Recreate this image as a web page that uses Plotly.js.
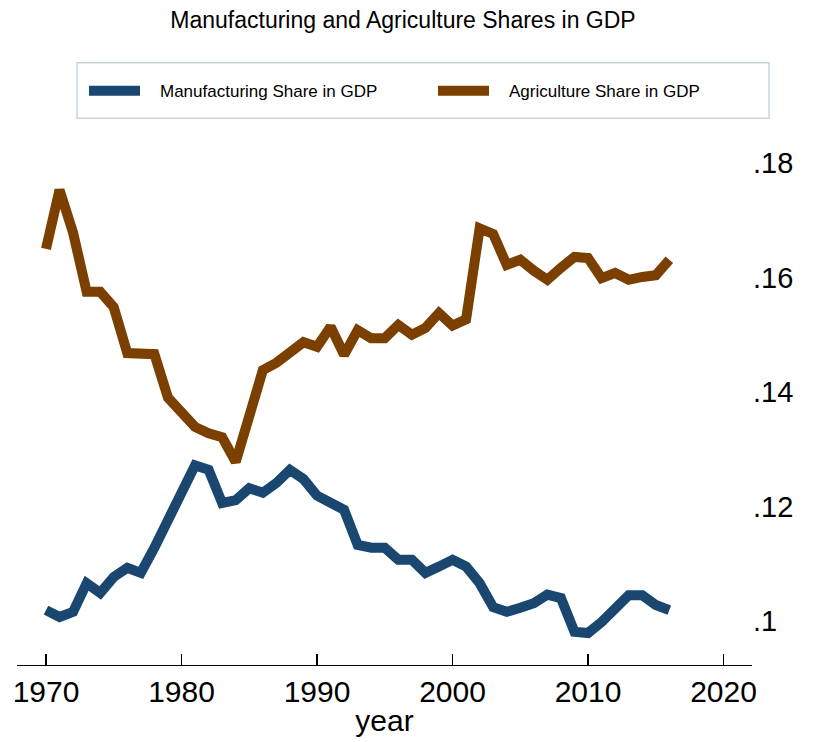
<!DOCTYPE html>
<html>
<head>
<meta charset="utf-8">
<script src="https://cdn.plot.ly/plotly-3.0.1.min.js"></script>
<style>html,body{margin:0;padding:0;background:#fff;}#chart{width:814px;height:742px;}</style>
</head>
<body>
<div id="chart"></div>
<script>
const years = [1970,1971,1972,1973,1974,1975,1976,1977,1978,1979,1980,1981,1982,1983,1984,1985,1986,1987,1988,1989,1990,1991,1992,1993,1994,1995,1996,1997,1998,1999,2000,2001,2002,2003,2004,2005,2006,2007,2008,2009,2010,2011,2012,2013,2014,2015,2016];

const manufacturingShare = [0.1019,0.1007,0.1016,0.1066,0.1049,0.1077,0.1093,0.1084,0.1128,0.1176,0.1220,0.1272,0.1264,0.1206,0.1211,0.1232,0.1224,0.1241,0.1264,0.1248,0.1219,0.1206,0.1194,0.1133,0.1128,0.1128,0.1107,0.1107,0.1084,0.1095,0.1107,0.1095,0.1066,0.1024,0.1016,0.1023,0.1031,0.1046,0.1040,0.0981,0.0979,0.0998,0.1019,0.1045,0.1045,0.1028,0.1019];

const agricultureShare = [0.1650,0.1753,0.1678,0.1575,0.1575,0.1548,0.1468,0.1468,0.1466,0.1390,0.1365,0.1339,0.1328,0.1321,0.1278,0.1365,0.1438,0.1451,0.1468,0.1487,0.1479,0.1514,0.1465,0.1508,0.1494,0.1494,0.1517,0.1500,0.1512,0.1538,0.1516,0.1527,0.1686,0.1676,0.1622,0.1631,0.1612,0.1596,0.1617,0.1636,0.1634,0.1599,0.1608,0.1596,0.1601,0.1604,0.1631];

const xTicks = [1970,1980,1990,2000,2010,2020];
const yTicks = [0.10,0.12,0.14,0.16,0.18];
const yTickLabels = ['.1','.12','.14','.16','.18'];

const seriesNames = ['Manufacturing Share in GDP','Agriculture Share in GDP'];
const seriesColors = ['#1a476f','#7b3f00'];
const FONT = 'Liberation Sans, Arial, Helvetica, sans-serif';

const traces = [
  {x: years, y: manufacturingShare, name: seriesNames[0], type: 'scatter', mode: 'lines',
   line: {color: seriesColors[0], width: 10}},
  {x: years, y: agricultureShare, name: seriesNames[1], type: 'scatter', mode: 'lines',
   line: {color: seriesColors[1], width: 10}}
];

// pixel helpers for layout positioning (plot area: x 17..752, y 140..665)
const L = 17, R = 752, T = 140, B = 665;
const px = v => (v - L) / (R - L);
const py = v => (B - v) / (B - T);

// legend (drawn as key lines + labels inside a framed box, Stata style)
const legendKeyX = [[89, 140], [438, 489]];
const legendTextX = [158, 507];
const legendY = 90.7;

const shapes = [
  {type: 'rect', xref: 'paper', yref: 'paper', x0: px(77), x1: px(769), y0: py(118.3), y1: py(62.7),
   line: {color: '#c9d4e2', width: 1.5}, fillcolor: 'rgba(0,0,0,0)', layer: 'above'}
];
const annotations = [];
seriesNames.forEach((nm, i) => {
  shapes.push({type: 'line', xref: 'paper', yref: 'paper', x0: px(legendKeyX[i][0]), x1: px(legendKeyX[i][1]),
               y0: py(legendY), y1: py(legendY), line: {color: seriesColors[i], width: 10}, layer: 'above'});
  annotations.push({text: nm, xref: 'paper', yref: 'paper', x: px(legendTextX[i]), y: py(legendY + 0.5),
                    xanchor: 'left', yanchor: 'middle', showarrow: false,
                    font: {size: 17, family: FONT, color: '#000'}});
});

const layout = {
  width: 814, height: 742,
  paper_bgcolor: '#ffffff', plot_bgcolor: '#ffffff',
  margin: {l: L, r: 814 - R, t: T, b: 742 - B, pad: 0},
  font: {family: FONT, color: '#000'},
  title: {text: 'Manufacturing and Agriculture Shares in GDP', font: {size: 23, family: FONT, color: '#000'},
          xref: 'container', yref: 'container', x: 403/814, y: 1 - 20/742, xanchor: 'center', yanchor: 'middle'},
  xaxis: {range: [1967.86, 2022.10], tickvals: xTicks, ticks: 'inside', ticklen: 11, tickwidth: 1.3, tickcolor: '#000',
          showline: true, linecolor: '#000', linewidth: 1.3, showgrid: false, zeroline: false,
          tickfont: {size: 30, family: FONT, color: '#000'},
          title: {text: 'year', font: {size: 30, family: FONT, color: '#000'}, standoff: 2}},
  yaxis: {range: [0.09231, 0.18402], side: 'right', tickvals: yTicks, ticktext: yTickLabels, ticks: '',
          showline: false, showgrid: false, zeroline: false,
          tickfont: {size: 29, family: FONT, color: '#000'}},
  showlegend: false,
  shapes: shapes,
  annotations: annotations
};

Plotly.newPlot('chart', traces, layout, {displayModeBar: false, staticPlot: true});
</script>
</body>
</html>
